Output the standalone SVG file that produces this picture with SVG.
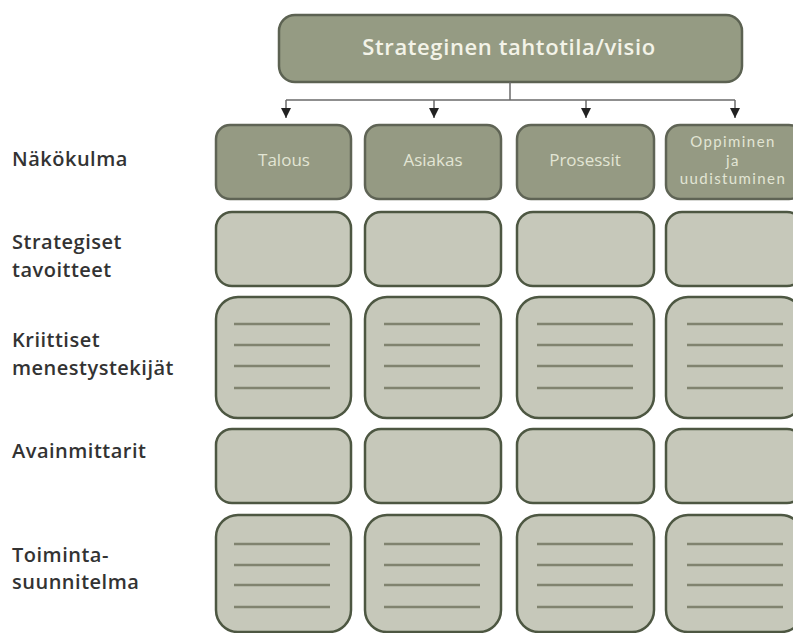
<svg xmlns="http://www.w3.org/2000/svg" width="793" height="633" viewBox="0 0 793 633">
<defs>
<style>
.top{fill:#959b83;stroke:#5c6252;stroke-width:2.5}
.head{fill:#959a83;stroke:#5f6455;stroke-width:2.5}
.cell{fill:#c6c8ba;stroke:#4d5742;stroke-width:2.5}
.ln{stroke:#80836f;stroke-width:2.5}
.conn{stroke:#6a6a6a;stroke-width:1.5;fill:none}
.ttl{font-family:"Open Sans","Liberation Sans",sans-serif;font-weight:600;font-size:22px;fill:#f3f3e8;letter-spacing:0.6px;text-anchor:middle}
.ht{font-family:"Open Sans","Liberation Sans",sans-serif;font-size:17px;fill:#e2e5d4;text-anchor:middle}
.ht2{font-family:Lato,"Liberation Sans",sans-serif;font-size:15px;fill:#e2e5d4;letter-spacing:1.4px;text-anchor:middle}
.lbl{font-family:"Open Sans","Liberation Sans",sans-serif;font-weight:600;font-size:20px;fill:#333333;letter-spacing:0.5px}
</style>
<marker id="arr" viewBox="0 0 10 10" refX="10" refY="5" markerWidth="10" markerHeight="10" markerUnits="userSpaceOnUse" orient="auto">
<path d="M0,0 L10,5 L0,10 Z" fill="#222"/>
</marker>
</defs>
<rect width="793" height="633" fill="#ffffff"/>

<g id="vision">
<rect class="top" x="279" y="15" width="463" height="67" rx="16"/>
<text class="ttl" x="509" y="55">Strateginen tahtotila/visio</text>
</g>

<g id="connectors">
<line class="conn" x1="510" y1="82" x2="510" y2="100"/>
<line class="conn" x1="286" y1="100" x2="735" y2="100"/>
<line class="conn" x1="286" y1="100" x2="286" y2="118" marker-end="url(#arr)"/>
<line class="conn" x1="434" y1="100" x2="434" y2="118" marker-end="url(#arr)"/>
<line class="conn" x1="586" y1="100" x2="586" y2="118" marker-end="url(#arr)"/>
<line class="conn" x1="735" y1="100" x2="735" y2="118" marker-end="url(#arr)"/>
</g>

<g id="labels">
<text class="lbl" x="12" y="166">Näkökulma</text>
<text class="lbl" x="12" y="249">Strategiset</text>
<text class="lbl" x="12" y="277">tavoitteet</text>
<text class="lbl" x="12" y="347">Kriittiset</text>
<text class="lbl" x="12" y="375">menestystekijät</text>
<text class="lbl" x="12" y="458">Avainmittarit</text>
<text class="lbl" x="12" y="562">Toiminta-</text>
<text class="lbl" x="12" y="589">suunnitelma</text>
</g>

<g id="talous">
<rect class="head" x="216" y="125" width="135" height="74" rx="14"/>
<text class="ht" x="284" y="166">Talous</text>
</g>
<g id="asiakas">
<rect class="head" x="365" y="125" width="136" height="74" rx="14"/>
<text class="ht" x="433" y="166">Asiakas</text>
</g>
<g id="prosessit">
<rect class="head" x="517" y="125" width="137" height="74" rx="14"/>
<text class="ht" x="585" y="166">Prosessit</text>
</g>
<g id="oppiminen">
<rect class="head" x="666" y="125" width="137" height="74" rx="14"/>
<text class="ht2" x="733" y="147">Oppiminen</text>
<text class="ht2" x="733" y="165.5">ja</text>
<text class="ht2" x="733" y="184">uudistuminen</text>
</g>

<g id="tavoitteet">
<rect class="cell" x="216" y="212" width="135" height="74" rx="16"/>
<rect class="cell" x="365" y="212" width="136" height="74" rx="16"/>
<rect class="cell" x="517" y="212" width="137" height="74" rx="16"/>
<rect class="cell" x="666" y="212" width="137" height="74" rx="16"/>
</g>

<g id="menestystekijat">
<rect class="cell" x="216" y="297" width="135" height="121" rx="22"/>
<rect class="cell" x="365" y="297" width="136" height="121" rx="22"/>
<rect class="cell" x="517" y="297" width="137" height="121" rx="22"/>
<rect class="cell" x="666" y="297" width="137" height="121" rx="22"/>
<g class="ln">
<line x1="234" y1="324" x2="330" y2="324"/><line x1="234" y1="345" x2="330" y2="345"/><line x1="234" y1="366" x2="330" y2="366"/><line x1="234" y1="388" x2="330" y2="388"/>
<line x1="384" y1="324" x2="480" y2="324"/><line x1="384" y1="345" x2="480" y2="345"/><line x1="384" y1="366" x2="480" y2="366"/><line x1="384" y1="388" x2="480" y2="388"/>
<line x1="537" y1="324" x2="633" y2="324"/><line x1="537" y1="345" x2="633" y2="345"/><line x1="537" y1="366" x2="633" y2="366"/><line x1="537" y1="388" x2="633" y2="388"/>
<line x1="687" y1="324" x2="783" y2="324"/><line x1="687" y1="345" x2="783" y2="345"/><line x1="687" y1="366" x2="783" y2="366"/><line x1="687" y1="388" x2="783" y2="388"/>
</g>
</g>

<g id="avainmittarit">
<rect class="cell" x="216" y="429" width="135" height="74" rx="16"/>
<rect class="cell" x="365" y="429" width="136" height="74" rx="16"/>
<rect class="cell" x="517" y="429" width="137" height="74" rx="16"/>
<rect class="cell" x="666" y="429" width="137" height="74" rx="16"/>
</g>

<g id="toimintasuunnitelma">
<rect class="cell" x="216" y="515" width="135" height="117" rx="22"/>
<rect class="cell" x="365" y="515" width="136" height="117" rx="22"/>
<rect class="cell" x="517" y="515" width="137" height="117" rx="22"/>
<rect class="cell" x="666" y="515" width="137" height="117" rx="22"/>
<g class="ln">
<line x1="234" y1="544" x2="330" y2="544"/><line x1="234" y1="565" x2="330" y2="565"/><line x1="234" y1="585" x2="330" y2="585"/><line x1="234" y1="607" x2="330" y2="607"/>
<line x1="384" y1="544" x2="480" y2="544"/><line x1="384" y1="565" x2="480" y2="565"/><line x1="384" y1="585" x2="480" y2="585"/><line x1="384" y1="607" x2="480" y2="607"/>
<line x1="537" y1="544" x2="633" y2="544"/><line x1="537" y1="565" x2="633" y2="565"/><line x1="537" y1="585" x2="633" y2="585"/><line x1="537" y1="607" x2="633" y2="607"/>
<line x1="687" y1="544" x2="783" y2="544"/><line x1="687" y1="565" x2="783" y2="565"/><line x1="687" y1="585" x2="783" y2="585"/><line x1="687" y1="607" x2="783" y2="607"/>
</g>
</g>
</svg>
